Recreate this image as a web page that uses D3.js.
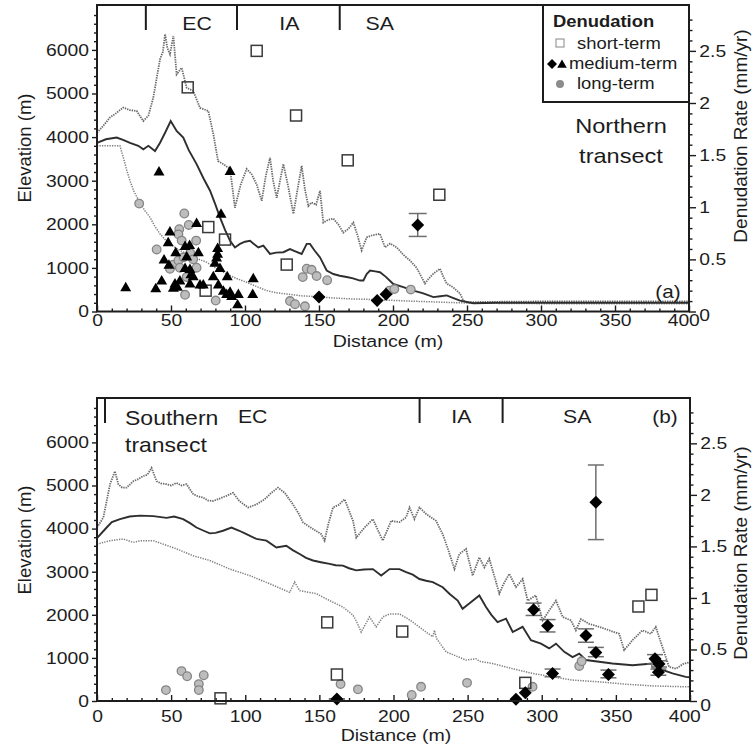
<!DOCTYPE html>
<html>
<head>
<meta charset="utf-8">
<script src="https://cdn.jsdelivr.net/npm/d3@7"></script>
<style>
  html, body { margin: 0; padding: 0; background: #fff; }
  svg { display: block; }
</style>
</head>
<body>
<script>
// ---------- shared ticks ----------
const distTicks = [0, 50, 100, 150, 200, 250, 300, 350, 400];
const elevTicks = [0, 1000, 2000, 3000, 4000, 5000, 6000];
const rateTicks = [0, 0.5, 1, 1.5, 2, 2.5];

// ---------- Northern transect: elevation profiles [distance, elevation] ----------
const northMaxElev = [[0,4100],[4,4250],[8.8,4450],[13,4550],[17.8,4680],[22,4620],[26.8,4600],[31.3,4370],[34.7,4490],[38,4900],[42.6,5790],[44.5,5950],[46,6360],[47.5,6050],[49.3,5900],[51.6,6320],[53.8,5440],[57.2,5590],[60.6,5130],[65,5060],[69.6,4670],[72,4640],[75.2,4600],[78.6,4070],[81.8,3450],[85.4,3380],[89.9,3270],[93.2,2380],[97,2900],[101.1,3270],[104.5,3150],[108,2900],[111.3,2540],[114,3100],[116.9,3530],[119,3000],[121.4,2610],[125.9,3380],[129,2900],[132.7,2240],[136,2900],[138.3,3340],[140.5,2800],[142.8,2420],[145,2500],[148,2450],[150.7,2770],[152.9,2040],[156,2100],[159.7,2130],[163,2000],[166.4,1810],[170,1900],[173.2,2040],[176,1750],[178.8,1400],[182.2,1700],[186,1750],[191.2,1780],[194.6,1470],[198,1560],[202.5,1470],[207,1300],[211.5,1170],[216,1000],[221.6,640],[224,750],[227.3,870],[231.8,980],[234,800],[236.3,640],[240.8,550],[245.3,410],[247.5,250],[250,210],[260,220],[300,230],[350,230],[400,230]];
const northMeanElev = [[0,3870],[6,3950],[13.3,3990],[18,3930],[22.3,3870],[27.9,3800],[31.3,3720],[34.7,3800],[39.2,3680],[42.6,3870],[46,4100],[49.8,4370],[53.8,4140],[58.3,3990],[62,3700],[67.3,3380],[72,3050],[76.4,2770],[80,2450],[83.1,2160],[86.5,1870],[89.9,1620],[93.2,1470],[96.6,1550],[100,1600],[103.4,1620],[106,1550],[109,1470],[112.4,1510],[116.9,1320],[121,1350],[125.9,1360],[130.4,1430],[134,1380],[138.3,1320],[141.7,1550],[143.9,1550],[147,1400],[150.7,1240],[155.2,940],[159.7,860],[164,820],[168.7,790],[173,760],[177.7,710],[180,710],[182.2,860],[184.5,940],[188,920],[191.2,900],[195,800],[200.2,630],[207,560],[213.7,480],[220,420],[227.3,330],[232,350],[236.3,370],[240,320],[245.3,250],[254.3,190],[270,200],[400,200]];
const northMinElev = [[0,3800],[15.5,3800],[17.8,3530],[20,3250],[22.3,3000],[25,2750],[29,2500],[32,2330],[35.8,2160],[39,1960],[42.6,1780],[46,1650],[49.3,1550],[55,1420],[60.6,1320],[67,1220],[74.1,1130],[80,1000],[87.6,860],[94,760],[101.1,670],[108,570],[114.6,480],[121,430],[128.2,400],[138,360],[148.4,340],[160,310],[171,290],[191,270],[210,240],[236,210],[254,190],[300,180],[400,180]];

// ---------- Northern transect: denudation rates [distance, mm/yr] ----------
const northShortTerm = [[107.9,2.50],[61.3,2.15],[134.5,1.88],[169.4,1.45],[231.3,1.12],[75.2,0.81],[86.5,0.69],[128.2,0.45],[73.4,0.20]];
const northMediumDiamond = [[150,0.14],[189.3,0.105],[195.3,0.165]];
const northMediumDiamondErr = [[216.7,0.83,0.72,0.94]];
const northMediumTriangle = [[41.9,1.345],[89.9,1.35],[83.8,0.94],[67.3,0.85],[49.3,0.77],[48.1,0.665],[59.5,0.63],[62.6,0.64],[81.5,0.61],[53.2,0.57],[68.5,0.57],[60.6,0.53],[80.8,0.52],[45.3,0.50],[48.6,0.45],[59.5,0.42],[62.8,0.41],[79.7,0.47],[83.1,0.42],[65,0.34],[78.6,0.34],[88,0.34],[105.6,0.32],[43.7,0.30],[56,0.30],[52.7,0.27],[62.8,0.27],[69.6,0.26],[71.8,0.26],[82,0.26],[19.4,0.235],[39.7,0.225],[51.6,0.23],[54.3,0.24],[85.4,0.20],[89.9,0.19],[87.6,0.17],[91,0.15],[95.5,0.17],[105.2,0.17],[95,0.07],[81.5,0.555],[63.5,0.36]];
const northLongTerm = [[28.5,1.035],[40.3,0.595],[59,0.94],[62,0.83],[55.6,0.79],[55,0.74],[57.2,0.68],[67,0.68],[51.6,0.45],[55,0.49],[56,0.42],[49.3,0.41],[67.3,0.42],[60.6,0.33],[59.5,0.16],[58.5,0.52],[63,0.56],[65,0.5],[80.2,0.105],[130.4,0.10],[133.8,0.07],[140.5,0.05],[139,0.33],[141.7,0.41],[145,0.40],[148.4,0.34],[155.5,0.30],[197.5,0.20],[200.9,0.215],[212,0.21]];
const northBounds = [33, 94.6, 164];
const northZones = [["EC", 67.6], ["IA", 130], ["SA", 191]];

// ---------- Southern transect: elevation profiles ----------
const southMaxElev = [[0,4025],[4.3,4260],[8.8,5030],[12.1,5330],[14.4,5030],[17,4950],[20,4950],[24.5,5100],[28,5150],[31.2,5220],[34,5250],[36.8,5410],[40.2,5100],[43,5050],[46.9,5030],[50,5000],[53.6,5060],[57,5000],[60.4,5030],[64.9,4800],[68,4750],[71.6,4720],[75,4650],[78.3,4640],[83,4700],[87.3,4760],[91.8,4830],[96,4640],[101.9,4490],[107.5,4560],[113.1,4680],[117.6,4830],[122.1,4950],[126.6,4830],[132.2,4560],[136,4350],[139,4140],[145.7,3990],[151.3,3870],[153.5,3720],[156,4100],[159.2,4490],[163,4550],[167,4680],[172.7,4180],[174.9,3790],[180.5,4025],[186.1,4220],[189,4000],[192.8,3720],[198.4,4180],[204,4150],[208.5,4260],[210.8,4490],[214.1,4220],[217.5,4490],[222,4340],[228.7,4180],[233.2,3870],[237,3500],[241.1,3060],[244.4,3410],[248.9,3530],[253.4,2910],[257.9,3330],[261.3,3100],[264.6,3300],[268,2900],[271.4,2490],[274,2700],[278.1,2950],[282.6,2640],[287.1,2830],[290.5,2330],[296,2450],[300.6,1870],[305,2100],[309.6,2330],[314.1,1950],[319.7,1870],[323,1640],[326.4,1900],[332,1790],[338.7,1720],[345.5,1640],[352.2,1560],[355.6,1180],[361.2,1410],[367.9,1640],[373.6,1560],[376.9,1720],[381.4,1250],[385.9,790],[390.4,750],[396,870],[400,900]];
const southMeanElev = [[0,3780],[6.5,4025],[10,4150],[15.5,4220],[22,4280],[29,4300],[38,4290],[46.9,4250],[52,4280],[58.1,4220],[63,4120],[67.1,4025],[72,3950],[76.1,3890],[80,3900],[85,3950],[90.7,4025],[96,3950],[100.8,3870],[107.5,3760],[114.3,3720],[121,3560],[127.7,3600],[132,3500],[136.7,3410],[141,3320],[145.7,3260],[151,3220],[156.9,3180],[161,3150],[165.9,3140],[170,3080],[174.9,3030],[180,3050],[186.1,3060],[191.7,2910],[197.3,3060],[204,3060],[208.5,2990],[213,2930],[217.5,2830],[222,2790],[226.5,2760],[233.2,2640],[237.7,2490],[243.3,2330],[246.6,2140],[251.1,2260],[257.9,2450],[262.4,2180],[266,2000],[270.2,1830],[275.9,1910],[280.4,1600],[287.1,1720],[292.7,1410],[299.5,1330],[305,1220],[309.6,1330],[315.2,1140],[320.8,1020],[325.3,1100],[329.8,950],[338.7,910],[347.7,870],[361.2,830],[374.7,870],[381.4,720],[388.2,640],[397.1,560],[400,550]];
const southMinElev = [[0,3640],[8.8,3720],[17.7,3760],[24.5,3680],[30,3720],[38,3720],[44.6,3640],[53.6,3530],[64.9,3370],[76.1,3260],[89.6,3060],[103,2910],[116.5,2720],[130,2520],[133.3,2760],[136.7,2560],[147.9,2490],[156.9,2330],[165.9,2180],[172.7,1990],[175,1850],[178.2,1600],[183.8,1950],[188.3,1720],[192.8,1950],[197.3,2020],[204,2020],[209.6,1910],[213,1830],[222,1600],[226.5,1490],[227.6,1640],[229,1450],[235.5,1140],[248.9,950],[255.6,980],[258,920],[266.8,870],[280.3,750],[293.8,640],[307.3,560],[320.8,485],[338.7,445],[356.7,390],[374.7,350],[397.1,330],[400,330]];

// ---------- Southern transect: denudation rates ----------
const southShortTerm = [[155.3,0.763],[205.9,0.674],[161.8,0.257],[83.3,0.026],[288.9,0.176],[365.2,0.917],[374,1.03]];
const southMediumDiamond = [[288.9,0.08],[282.6,0.016]];
// [distance, rate, low, high]
const southMediumDiamondErr = [[294.5,0.885,0.83,0.95],[303.9,0.73,0.67,0.79],[329.8,0.635,0.57,0.70],[336.5,0.47,0.43,0.52],[307.3,0.267,0.235,0.31],[345,0.257,0.225,0.30],[376.4,0.41,0.36,0.45],[379.1,0.36,0.33,0.39],[378.7,0.28,0.25,0.31],[336.5,1.928,1.566,2.29],[161.8,0.02,0.02,0.02]];
const southLongTerm = [[46.5,0.106],[57,0.29],[60.8,0.24],[72,0.25],[68.7,0.164],[68.7,0.106],[164.3,0.164],[176,0.113],[212.3,0.058],[218.6,0.138],[249.6,0.176],[293.8,0.138],[325.3,0.34],[326.9,0.385],[377,0.35]];
const southBounds = [5.4, 217.6, 273.6];
const southZones = [["EC", 105], ["IA", 245.8], ["SA", 323.9]];

// ---------- drawing ----------
const FONT = '"Liberation Sans", Arial, Helvetica, sans-serif';
const SX = 1.15;           // horizontal glyph widening used for all labels
const INK = "#1c1c1c";

const svg = d3.select("body").append("svg")
  .attr("width", 752).attr("height", 752)
  .attr("font-family", FONT);
svg.append("rect").attr("width", 752).attr("height", 752).attr("fill", "#fff");

function label(g, x, y, s, size, opt = {}) {
  return g.append("text")
    .attr("transform", `translate(${x},${y}) scale(${opt.sx ?? SX},1)`)
    .attr("text-anchor", opt.anchor || "start")
    .attr("font-size", size)
    .attr("font-weight", opt.weight || "normal")
    .attr("fill", INK)
    .text(s);
}

function vLabel(g, x, y, s, size) {
  return g.append("text")
    .attr("transform", `translate(${x},${y}) rotate(-90)`)
    .attr("text-anchor", "middle").attr("dy", "0.35em")
    .attr("font-size", size).attr("fill", INK).text(s);
}

function styleAxis(sel, size) {
  sel.select(".domain").remove();
  sel.attr("font-size", size).attr("font-family", FONT).attr("color", INK);
  sel.selectAll("line").attr("stroke-width", 1.4);
}

function panel(p) {
  const g = svg.append("g");
  const x = d3.scaleLinear().domain([0, 400]).range([p.left, p.right]);
  const yE = d3.scaleLinear().domain([0, 7030]).range([p.bottom, p.top]);
  const yR = d3.scaleLinear().domain([0, 2.94]).range([p.bottom, p.top]);

  // axes
  const minorD = d3.range(0, 401, 10).filter(v => v % 50);
  const gb = g.append("g").attr("transform", `translate(0,${p.bottom})`)
    .call(d3.axisBottom(x).tickValues(distTicks).tickSize(-6).tickPadding(p.xPad).tickFormat(d3.format("d")));
  styleAxis(gb, 16.8);
  gb.selectAll("text").attr("transform", `scale(${SX},1)`)
    .attr("x", d => d === 400 ? -5 : 0);
  styleAxis(g.append("g").attr("transform", `translate(0,${p.bottom})`)
    .call(d3.axisBottom(x).tickValues(minorD).tickSize(-3).tickFormat("")), 10);

  const gl = g.append("g").attr("transform", `translate(${p.left},0)`)
    .call(d3.axisLeft(yE).tickValues(elevTicks).tickSize(5).tickPadding(2).tickFormat(d3.format("d")));
  styleAxis(gl, 16.8);
  gl.selectAll("text").attr("transform", `scale(${SX},1)`);
  styleAxis(g.append("g").attr("transform", `translate(${p.left},0)`)
    .call(d3.axisLeft(yE).tickValues(d3.range(200, 7001, 200).filter(v => v % 1000)).tickSize(3).tickFormat("")), 10);

  const gr = g.append("g").attr("transform", `translate(${p.right},0)`)
    .call(d3.axisRight(yR).tickValues(rateTicks).tickSize(7).tickPadding(2).tickFormat(d => String(d)));
  styleAxis(gr, 16.8);
  gr.selectAll("text").attr("transform", `scale(${SX},1)`)
    .attr("dy", d => d === 0 ? "0.55em" : "0.32em");
  styleAxis(g.append("g").attr("transform", `translate(${p.right},0)`)
    .call(d3.axisRight(yR).tickValues(d3.range(1, 29).map(v => v / 10).filter(v => Math.round(v * 10) % 5)).tickSize(3.5).tickFormat("")), 10);

  // elevation profiles
  const line = d3.line().x(d => x(d[0])).y(d => yE(d[1]));
  g.append("path").datum(p.minE).attr("d", line).attr("fill", "none")
    .attr("stroke", "#7e7e7e").attr("stroke-width", 1.5).attr("stroke-dasharray", "1.3,1.2");
  g.append("path").datum(p.maxE).attr("d", line).attr("fill", "none")
    .attr("stroke", "#6a6a6a").attr("stroke-width", 1.8).attr("stroke-dasharray", "1.4,1");
  g.append("path").datum(p.meanE).attr("d", line).attr("fill", "none")
    .attr("stroke", "#2e2e2e").attr("stroke-width", 1.9);

  // long-term denudation
  g.selectAll(null).data(p.longT).join("circle")
    .attr("cx", d => x(d[0])).attr("cy", d => yR(d[1])).attr("r", 4.3)
    .attr("fill", "#bdbdbd").attr("stroke", "#858585").attr("stroke-width", 1.3);

  // short-term denudation
  g.selectAll(null).data(p.shortT).join("rect")
    .attr("x", d => x(d[0]) - 5.5).attr("y", d => yR(d[1]) - 5.5)
    .attr("width", 11).attr("height", 11)
    .attr("fill", "none").attr("stroke", "#3a3a3a").attr("stroke-width", 1.5);

  // medium-term: triangles
  const tri = d3.symbol().type(d3.symbolTriangle).size(52);
  g.selectAll(null).data(p.triT || []).join("path")
    .attr("d", tri).attr("transform", d => `translate(${x(d[0])},${yR(d[1]) + 1})`)
    .attr("fill", "#000");

  // medium-term: error bars then diamonds
  const err = g.selectAll(null).data(p.diaErr).join("g").attr("stroke", "#6e6e6e").attr("stroke-width", 1.5);
  err.append("line").attr("x1", d => x(d[0])).attr("x2", d => x(d[0]))
    .attr("y1", d => yR(d[2])).attr("y2", d => yR(d[3]));
  [2, 3].forEach(k => err.append("line")
    .attr("x1", d => x(d[0]) - p.cap).attr("x2", d => x(d[0]) + p.cap)
    .attr("y1", d => yR(d[k])).attr("y2", d => yR(d[k])));
  const dia = d3.symbol().type(d3.symbolSquare).size(84);
  g.selectAll(null).data(p.dia.concat(p.diaErr)).join("path")
    .attr("d", dia).attr("transform", d => `translate(${x(d[0])},${yR(d[1])}) rotate(45)`)
    .attr("fill", "#000");

  // frame
  g.append("rect").attr("x", p.left).attr("y", p.top)
    .attr("width", p.right - p.left).attr("height", p.bottom - p.top)
    .attr("fill", "none").attr("stroke", INK).attr("stroke-width", 2);

  // morphotectonic zones along the top
  g.selectAll(null).data(p.bounds).join("line")
    .attr("x1", d => x(d)).attr("x2", d => x(d))
    .attr("y1", p.top).attr("y2", p.top + 25)
    .attr("stroke", INK).attr("stroke-width", 2);
  p.zones.forEach(z => label(g, x(z[1]), p.top + 25, z[0], 18.5, { anchor: "middle" }));

  // axis titles
  vLabel(g, 25, p.elevTitleY, "Elevation (m)", 18.5);
  vLabel(g, 740, p.rateTitleY, "Denudation Rate (mm/yr)", 19);
  label(g, p.distTitleX, p.distTitleY, "Distance (m)", 17, { anchor: "middle" });
  return { g, x, yE, yR };
}

const A = panel({
  left: 97, right: 689, top: 5, bottom: 311.5, xPad: 3,
  maxE: northMaxElev, meanE: northMeanElev, minE: northMinElev,
  shortT: northShortTerm, longT: northLongTerm, triT: northMediumTriangle,
  dia: northMediumDiamond, diaErr: northMediumDiamondErr, cap: 9,
  bounds: northBounds, zones: northZones,
  elevTitleY: 148, rateTitleY: 136, distTitleX: 388, distTitleY: 347
});
label(A.g, 621, 133, "Northern", 20.5, { anchor: "middle" });
label(A.g, 621, 163, "transect", 20.5, { anchor: "middle" });
label(A.g, 668, 298, "(a)", 18, { anchor: "middle" });

// legend
const lg = A.g.append("g");
lg.append("rect").attr("x", 543).attr("y", 5).attr("width", 689 - 543).attr("height", 97)
  .attr("fill", "#fff").attr("stroke", INK).attr("stroke-width", 2);
label(lg, 553, 27, "Denudation", 16, { weight: "bold" });
lg.append("rect").attr("x", 556).attr("y", 39).attr("width", 8).attr("height", 8)
  .attr("fill", "none").attr("stroke", "#9a9a9a").attr("stroke-width", 1.2);
label(lg, 577, 48.5, "short-term", 16);
lg.append("path").attr("d", d3.symbol().type(d3.symbolSquare).size(50))
  .attr("transform", "translate(552,64) rotate(45)").attr("fill", "#000");
lg.append("path").attr("d", d3.symbol().type(d3.symbolTriangle).size(40))
  .attr("transform", "translate(562,65)").attr("fill", "#000");
label(lg, 569, 69, "medium-term", 16);
lg.append("circle").attr("cx", 560).attr("cy", 84).attr("r", 4).attr("fill", "#8c8c8c");
label(lg, 577, 89, "long-term", 16);

const B = panel({
  left: 97, right: 690, top: 398, bottom: 701, xPad: 9,
  maxE: southMaxElev, meanE: southMeanElev, minE: southMinElev,
  shortT: southShortTerm, longT: southLongTerm, triT: [],
  dia: southMediumDiamond, diaErr: southMediumDiamondErr, cap: 8,
  bounds: southBounds, zones: southZones,
  elevTitleY: 540, rateTitleY: 553, distTitleX: 396, distTitleY: 741
});
label(B.g, 125, 425, "Southern", 20, {});
label(B.g, 125, 452, "transect", 20, {});
label(B.g, 665, 423, "(b)", 18, { anchor: "middle" });
</script>
</body>
</html>
